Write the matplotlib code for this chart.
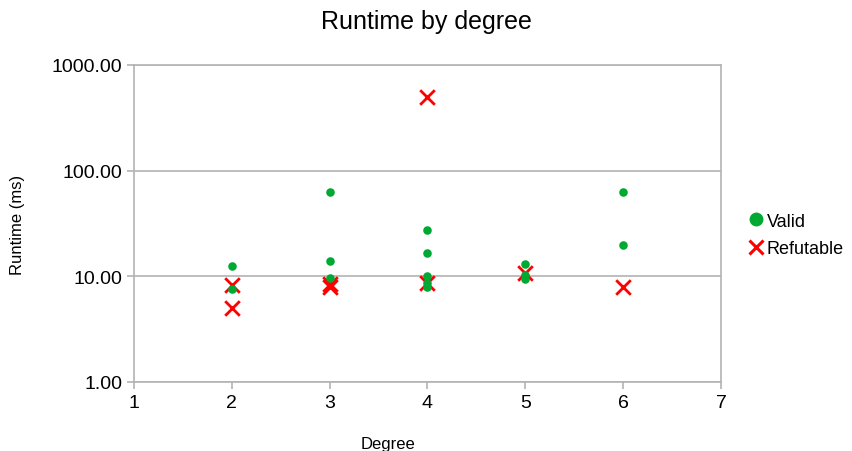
import numpy as np
import matplotlib.pyplot as plt
from matplotlib.lines import Line2D
from matplotlib.ticker import FixedLocator, FuncFormatter, NullLocator

plt.rcParams['font.family'] = ['Liberation Sans', 'DejaVu Sans']

# Data
valid_deg = [2, 2, 3, 3, 3, 4, 4, 4, 4, 4, 5, 5, 5, 6, 6]
valid_ms = [12.4, 7.6, 63.5, 13.9, 9.6, 27.2, 16.7, 10.1, 8.6, 8.0, 13.0, 10.4, 9.4, 63.5, 19.6]
refut_deg = [2, 2, 3, 3, 4, 4, 5, 6]
refut_ms = [8.2, 5.0, 8.4, 8.0, 500.0, 8.6, 10.7, 8.0]

grid_color = '#b3b3b3'
green = '#00a933'
red = '#ff0000'

fig = plt.figure(figsize=(8.53, 4.52), dpi=100)
ax = fig.add_axes([134/853, 69/452, 587/853, 317/452])

ax.scatter(valid_deg, valid_ms, s=38, color=green, marker='o', lw=0, zorder=3)
ax.scatter(refut_deg, refut_ms, s=110, color=red, marker='x', lw=2, zorder=2)

ax.set_yscale('log')
ax.set_ylim(1, 1000)
ax.set_xlim(1, 7)
ax.yaxis.set_major_locator(FixedLocator([1, 10, 100, 1000]))
ax.yaxis.set_minor_locator(NullLocator())
ax.yaxis.set_major_formatter(FuncFormatter(lambda v, p: f'{v:.2f}'))
ax.set_xticks(range(1, 8))

ax.grid(axis='y', color=grid_color, lw=1.2)
ax.set_axisbelow(True)
for s in ax.spines.values():
    s.set_color(grid_color)
    s.set_linewidth(1.2)
ax.tick_params(axis='both', colors=grid_color, labelcolor='black', labelsize=14, length=5, width=1.2)

fig.text(426/853, 1 - 22/452, 'Runtime by degree', fontsize=18, ha='center', va='center')
fig.text(388/853, 1 - 445/452, 'Degree', fontsize=12, ha='center', va='center')
fig.text(18/853, 1 - 225/452, 'Runtime (ms)', fontsize=12, ha='center', va='center', rotation=90)

handles = [
    Line2D([], [], ls='none', marker='o', ms=10, color=green, mew=0),
    Line2D([], [], ls='none', marker='x', ms=10, color=red, mew=2.2),
]
fig.legend(handles, ['Valid', 'Refutable'], loc='center left',
           bbox_to_anchor=(747/853, 1 - 236/452), frameon=False, fontsize=13,
           handletextpad=0.1, handlelength=1.0, labelspacing=0.6,
           borderaxespad=0, borderpad=0)

fig.savefig('out.png', dpi=100)
